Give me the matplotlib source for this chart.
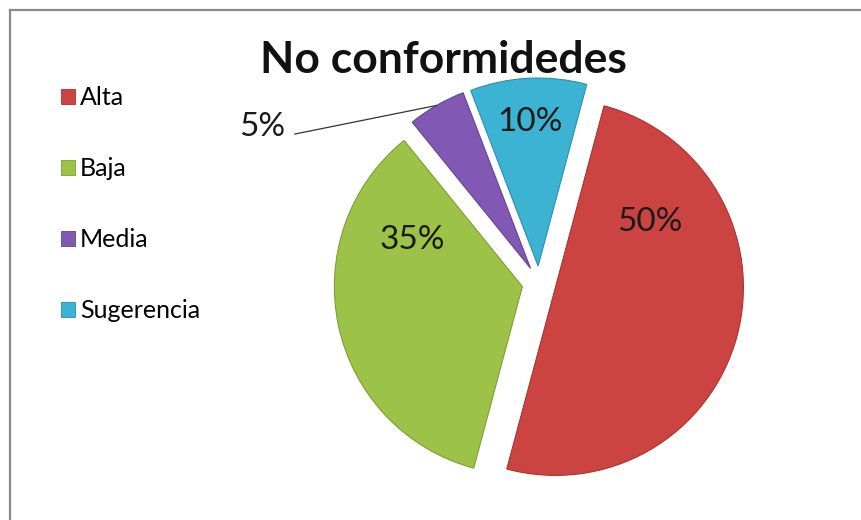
import math
import matplotlib.pyplot as plt
from matplotlib.patches import Patch
from matplotlib.lines import Line2D

# data
categories = ['Alta', 'Baja', 'Media', 'Sugerencia']
values = [50, 35, 5, 10]
colors = ['#CC4441', '#9CC247', '#8159B4', '#3CB3D3']
edges = ['#A83330', '#7E9E36', '#64438F', '#2B8FAB']

plt.rcParams['font.family'] = ['Lato', 'DejaVu Sans']

W, H = 861, 520
fig = plt.figure(figsize=(W / 100, H / 100), dpi=100)
ax = fig.add_axes([0, 0, 1, 1])

cx, cy, R = 539, 237, 188
expl = 17

wedges, _ = ax.pie(values, colors=colors, startangle=75, counterclock=False,
                   explode=[expl] * 4, radius=R, center=(cx, cy),
                   wedgeprops=dict(linewidth=0.8))
for w, ec in zip(wedges, edges):
    w.set_edgecolor(ec)

ax.set_xlim(0, W)
ax.set_ylim(0, H)
ax.set_aspect('equal')
ax.axis('off')

# percentage labels, offsets from pie centre
lab_pos = [(111, 61), (-127, 43), None, (-9, 161)]
for v, p in zip(values, lab_pos):
    if p is None:
        continue
    ax.text(cx + p[0], cy + p[1], f'{v}%', fontsize=24, ha='center', va='center',
            color='#1a1a1a')

# 5% label with leader line to the middle of the purple arc
w = wedges[2]
tm = math.radians((w.theta1 + w.theta2) / 2)
wx, wy = w.center
ax.annotate(f'{values[2]}%', xy=(wx + R * math.cos(tm), wy + R * math.sin(tm)),
            xytext=(262, 393), fontsize=24, ha='center', va='center',
            color='#1a1a1a',
            arrowprops=dict(arrowstyle='-', color='#333333', lw=0.9,
                            shrinkA=5, shrinkB=0,
                            relpos=(1.0, 0.2)))

fig.text(443 / W, 1 - 60 / H, 'No conformidedes', fontsize=32, fontweight='bold',
         ha='center', va='center', color='#111111')

handles = [Patch(facecolor=c, edgecolor=e, linewidth=0.6) for c, e in zip(colors, edges)]
fig.legend(handles, categories, loc='upper left', bbox_to_anchor=(51 / W, 1 - 76 / H),
           frameon=False, fontsize=18, handlelength=0.55, handleheight=0.55,
           handletextpad=0.2, labelspacing=1.92, borderaxespad=0)

# frame (left and top only are visible)
fig.add_artist(Line2D([10 / W, 10 / W], [0, 1 - 10 / H], transform=fig.transFigure,
                      color='#8a8a8a', lw=1.6))
fig.add_artist(Line2D([10 / W, 1], [1 - 10 / H, 1 - 10 / H], transform=fig.transFigure,
                      color='#8a8a8a', lw=1.6))

fig.savefig('out.png', dpi=100)
